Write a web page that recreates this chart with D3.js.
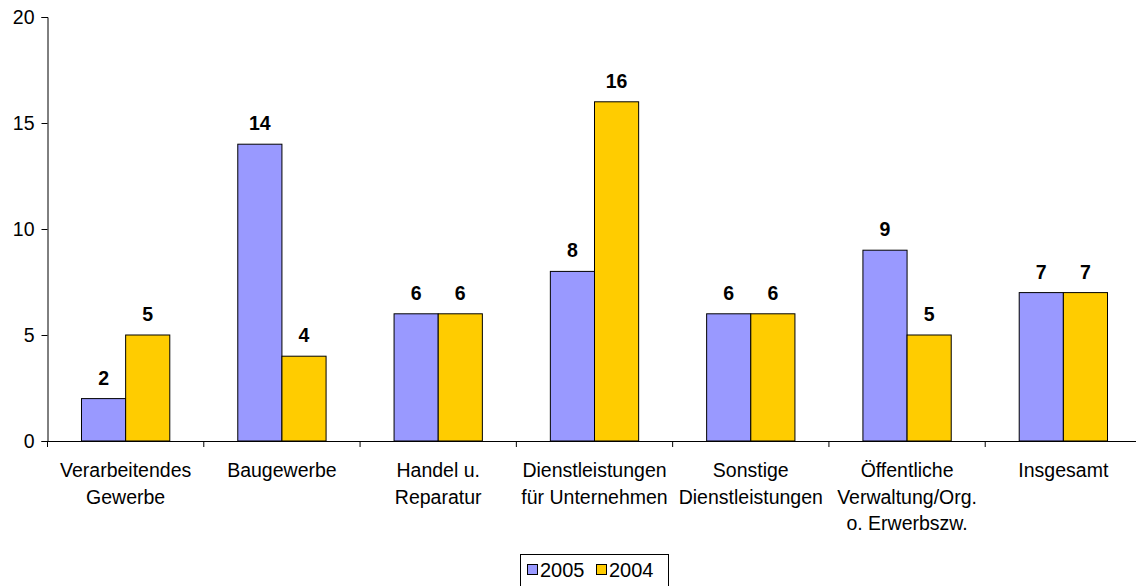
<!DOCTYPE html>
<html>
<head>
<meta charset="utf-8">
<title>Chart</title>
<script src="https://cdn.jsdelivr.net/npm/d3@7"></script>
<style>
  body { margin: 0; background: #fff; }
  text { font-family: "Liberation Sans", Arial, sans-serif; fill: #000; }
</style>
</head>
<body>
<script>
// data
var categories = [
  ['Verarbeitendes', 'Gewerbe'],
  ['Baugewerbe'],
  ['Handel u.', 'Reparatur'],
  ['Dienstleistungen', 'für Unternehmen'],
  ['Sonstige', 'Dienstleistungen'],
  ['Öffentliche', 'Verwaltung/Org.', 'o. Erwerbszw.'],
  ['Insgesamt']
];
var seriesNames = ['2005', '2004'];
var values2005 = [2, 14, 6, 8, 6, 9, 7];
var values2004 = [5, 4, 6, 16, 6, 5, 7];
var yTicks = [0, 5, 10, 15, 20];
var colors = ['#9999FF', '#FFCC00'];

var w = 1136, h = 586;
var fs = 19.5;
var svg = d3.select('body').append('svg').attr('width', w).attr('height', h);

var x = d3.scaleBand().domain(d3.range(categories.length)).range([47.5, 1141.5]);
var y = d3.scaleLinear().domain([0, 20]).range([441, 17]);
var inner = d3.scaleBand().domain(seriesNames).range([0, x.bandwidth()]).paddingOuter(0.77);

// y axis
var yAxis = d3.axisLeft(y).tickValues(yTicks).tickSize(6).tickPadding(7);
var gy = svg.append('g').attr('transform', 'translate(47.5,0)').call(yAxis);
gy.select('.domain').attr('stroke', '#000');
gy.selectAll('text').attr('font-size', fs).style('font-family', '"Liberation Sans", Arial, sans-serif');

// x axis baseline + ticks
var xTickPos = d3.range(categories.length + 1).map(function(i) { return x.range()[0] + i * x.step(); });
svg.append('line').attr('x1', 47.5).attr('x2', 1141).attr('y1', 441.5).attr('y2', 441.5).attr('stroke', '#000');
svg.append('g').selectAll('line').data(xTickPos).enter().append('line')
  .attr('x1', function(d) { return d; }).attr('x2', function(d) { return d; })
  .attr('y1', 441.5).attr('y2', 447).attr('stroke', '#000');

// bars
var series = [values2005, values2004];
series.forEach(function(vals, si) {
  var g = svg.append('g');
  g.selectAll('rect').data(vals).enter().append('rect')
    .attr('x', function(d, i) { return x(i) + inner(seriesNames[si]); })
    .attr('y', function(d) { return y(d); })
    .attr('width', inner.bandwidth())
    .attr('height', function(d) { return y(0) - y(d); })
    .attr('fill', colors[si]).attr('stroke', '#000').attr('stroke-width', 1);
  g.selectAll('text').data(vals).enter().append('text')
    .attr('x', function(d, i) { return x(i) + inner(seriesNames[si]) + inner.bandwidth() / 2; })
    .attr('y', function(d) { return y(d) - 14; })
    .attr('text-anchor', 'middle').attr('font-size', fs).attr('font-weight', 'bold')
    .text(function(d) { return d; });
});

// category labels
var labels = svg.append('g');
categories.forEach(function(lines, i) {
  var t = labels.append('text').attr('text-anchor', 'middle').attr('font-size', fs);
  lines.forEach(function(l, j) {
    t.append('tspan').attr('x', x(i) + x.bandwidth() / 2).attr('y', 477 + j * 26.5).text(l);
  });
});

// legend
var lg = svg.append('g');
lg.append('rect').attr('x', 520.5).attr('y', 554.5).attr('width', 148).attr('height', 40)
  .attr('fill', '#fff').attr('stroke', '#000');
seriesNames.forEach(function(s, i) {
  var lx = 527 + i * 69;
  lg.append('rect').attr('x', lx + 0.5).attr('y', 564.5).attr('width', 10).attr('height', 10)
    .attr('fill', colors[i]).attr('stroke', '#000');
  lg.append('text').attr('x', lx + 13).attr('y', 577).attr('font-size', 20).text(s);
});
</script>
</body>
</html>
